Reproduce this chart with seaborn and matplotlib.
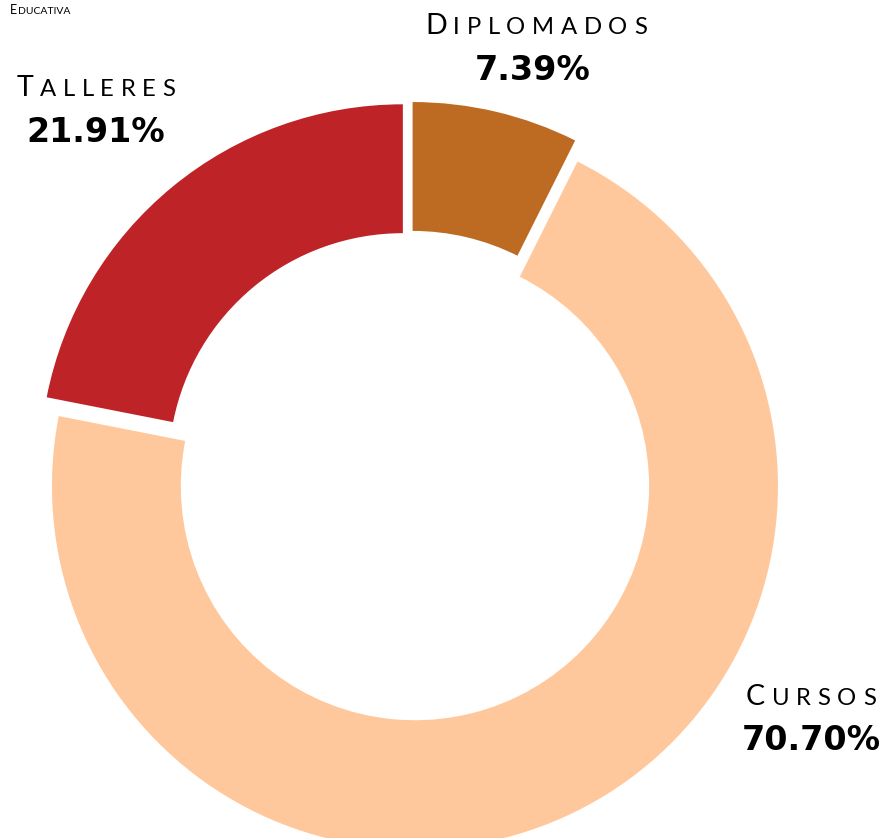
import matplotlib
matplotlib.use("Agg")
import matplotlib.pyplot as plt
import seaborn as sns
from matplotlib.offsetbox import TextArea, HPacker, AnnotationBbox

categorias = ["Diplomados", "Cursos", "Talleres"]
porcentajes = [7.39, 70.70, 21.91]
etiquetas = ["7.39%", "70.70%", "21.91%"]
colores = ["#BD6A22", "#FFC89C", "#BE2327"]

sns.set_theme(style="white")
plt.rcParams["font.family"] = ["Lato", "DejaVu Sans"]

W, H = 888, 838
fig = plt.figure(figsize=(W / 100, H / 100), dpi=100)

# donut geometry in pixels (centre before explode, outer radius)
cx, cy, r = 410, 476, 363
ax = fig.add_axes([(cx - r) / W, (H - cy - r) / H, 2 * r / W, 2 * r / H])
ax.pie(porcentajes, colors=colores, startangle=90, counterclock=False,
       radius=1.0, explode=[0.031, 0.031, 0.031],
       wedgeprops=dict(width=0.355, linewidth=0))
ax.set_xlim(-1, 1)
ax.set_ylim(-1, 1)
ax.set_aspect("equal")
ax.axis("off")


def small_caps(word, x, y, big=20.5, small=17.2, track=4.8):
    props_big = dict(fontsize=big, color="black", fontweight="normal")
    props_small = dict(fontsize=small, color="black", fontweight="normal")
    letras = [TextArea(word[0].upper(), textprops=props_big)]
    letras += [TextArea(c.upper(), textprops=props_small) for c in word[1:]]
    box = HPacker(children=letras, align="baseline", pad=0, sep=track)
    ab = AnnotationBbox(box, (x / W, 1 - y / H), xycoords="figure fraction",
                        box_alignment=(0.5, 0.5), frameon=False, pad=0)
    fig.add_artist(ab)


# label positions (pixel centres)
pos_nombre = [(536, 26), (811, 697), (96, 88)]
pos_valor = [(533, 70), (811, 740), (96, 133)]

for cat, et, pn, pv in zip(categorias, etiquetas, pos_nombre, pos_valor):
    small_caps(cat, *pn)
    fig.text(pv[0] / W, 1 - pv[1] / H, et, fontsize=24, fontweight="bold",
             color="black", ha="center", va="center",
             family=["DejaVu Sans"])

# small header in the corner, kept as two pieces so kerning stays intact
cabecera = HPacker(children=[TextArea("E", textprops=dict(fontsize=9, color="black")),
                             TextArea("DUCATIVA", textprops=dict(fontsize=7.5, color="black"))],
                   align="baseline", pad=0, sep=0.3)
fig.add_artist(AnnotationBbox(cabecera, (40 / W, 1 - 10 / H), xycoords="figure fraction",
                              box_alignment=(0.5, 0.5), frameon=False, pad=0))

fig.savefig("out.png", dpi=100)
